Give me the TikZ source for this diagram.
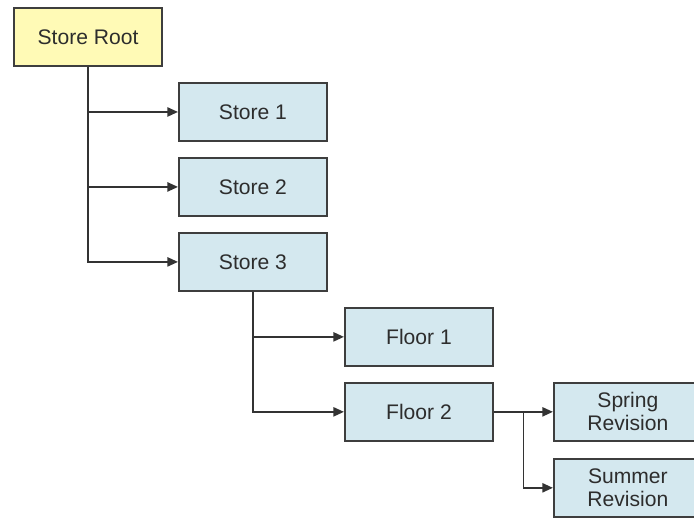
\documentclass[tikz,border=0pt]{standalone}
\usepackage{fontspec}
\setmainfont{Liberation Sans}
\usetikzlibrary{arrows.meta, positioning, calc}

\definecolor{rootfill}{RGB}{255,250,182}
\definecolor{itemfill}{RGB}{212,232,239}
\definecolor{edgegray}{RGB}{62,62,62}
\definecolor{textgray}{RGB}{45,45,45}

\begin{document}
\begin{tikzpicture}[
  node distance=0.375cm and 0.375cm,
  box/.style={rectangle, draw=edgegray, line width=1.4pt, fill=itemfill,
              align=center, text=textgray, font=\fontsize{15}{16.5}\selectfont,
              minimum width=3.7cm, minimum height=1.45cm, inner sep=2pt},
  arr/.style={-{Triangle[length=7.5pt, width=6.5pt]}, line width=1.3pt, draw=black!80}
]
\clip (0,0) rectangle (17.35,-12.925);
\fill[white] (0,0) rectangle (17.35,-12.925);
\node[box, fill=rootfill] (root) at (2.2,-0.925) {Store Root};
\node[box, below right=0.375cm and 0.375cm of root.south east, anchor=north west] (store1) {Store 1};
\node[box, below=of store1] (store2) {Store 2};
\node[box, below=of store2] (store3) {Store 3};
\node[box, below right=0.375cm and 0.4cm of store3.south east, anchor=north west] (floor1) {Floor 1};
\node[box, below=of floor1] (floor2) {Floor 2};
\node[box, right=1.475cm of floor2] (spring) {Spring\\Revision};
\node[box, below=0.4cm of spring] (summer) {Summer\\Revision};
\draw[arr] (root.south) |- (store1.west);
\draw[arr] (root.south) |- (store2.west);
\draw[arr] (root.south) |- (store3.west);
\draw[arr] (store3.south) |- (floor1.west);
\draw[arr] (store3.south) |- (floor2.west);
\draw[arr] (floor2) -- (spring);
\coordinate (fork) at ($(floor2.east)!0.5!(spring.west)$);
\draw[arr] (fork) |- (summer.west);
\end{tikzpicture}
\end{document}
